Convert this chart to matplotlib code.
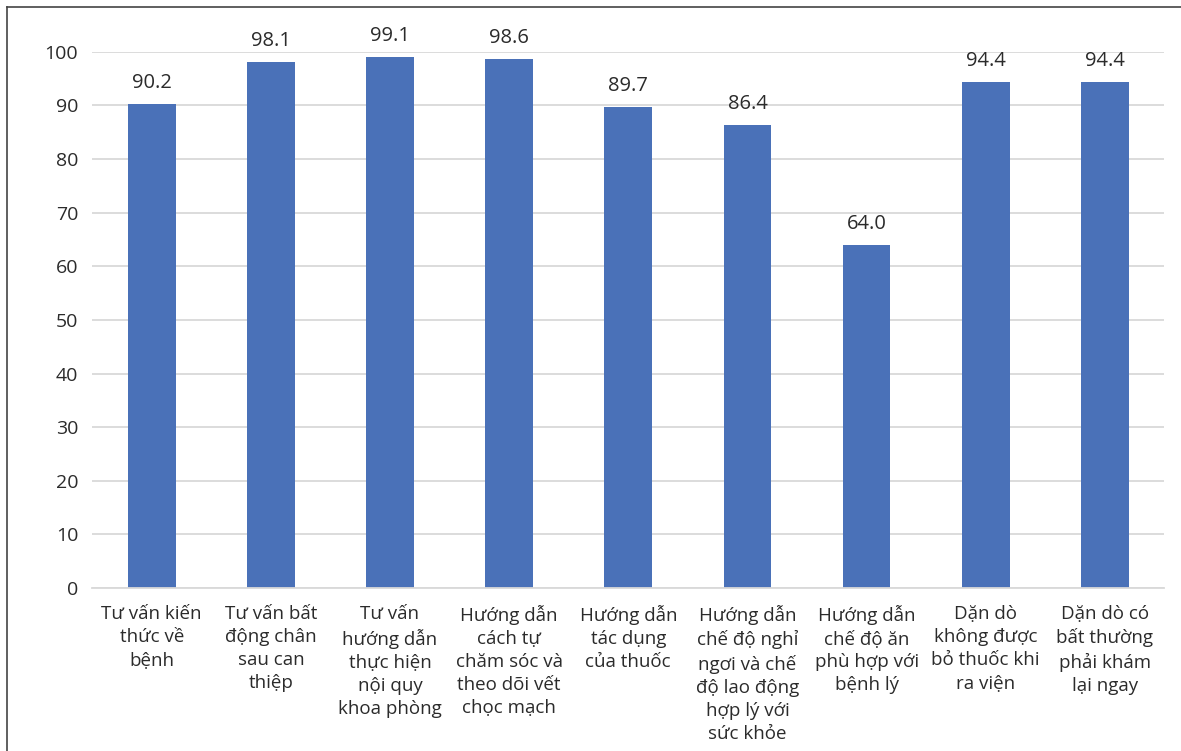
import matplotlib
matplotlib.use('Agg')
import matplotlib.pyplot as plt
from matplotlib.lines import Line2D

plt.rcParams['font.family'] = ['Open Sans', 'DejaVu Sans']

categories = [
    "Tư vấn kiến\nthức về\nbệnh",
    "Tư vấn bất\nđộng chân\nsau can\nthiệp",
    "Tư vấn\nhướng dẫn\nthực hiện\nnội quy\nkhoa phòng",
    "Hướng dẫn\ncách tự\nchăm sóc và\ntheo dõi vết\nchọc mạch",
    "Hướng dẫn\ntác dụng\ncủa thuốc",
    "Hướng dẫn\nchế độ nghỉ\nngơi và chế\nđộ lao động\nhợp lý với\nsức khỏe",
    "Hướng dẫn\nchế độ ăn\nphù hợp với\nbệnh lý",
    "Dặn dò\nkhông được\nbỏ thuốc khi\nra viện",
    "Dặn dò có\nbất thường\nphải khám\nlại ngay",
]
values = [90.2, 98.1, 99.1, 98.6, 89.7, 86.4, 64.0, 94.4, 94.4]
yticks = list(range(0, 101, 10))

text_color = '#2b2b2b'
fig = plt.figure(figsize=(11.81, 7.51), dpi=100)
ax = fig.add_axes([0.078, 0.217, 0.908, 0.714])

x = range(len(values))
bars = ax.bar(x, values, width=0.4, color='#4A71B8', zorder=2)
for b, v in zip(bars, values):
    ax.annotate(f"{v:.1f}", (b.get_x() + b.get_width() / 2, v),
                xytext=(0, 8), textcoords='offset points',
                ha='center', va='bottom', fontsize=14.5, color=text_color,
                annotation_clip=False)

ax.set_xlim(-0.5, len(values) - 0.5)
ax.set_ylim(0, 100)
ax.set_yticks(yticks)
ax.set_xticks(list(x))
ax.set_xticklabels(categories, fontsize=13.5, color=text_color,
                   linespacing=1.37, va='top')
ax.tick_params(axis='y', labelsize=14, labelcolor=text_color, length=0, pad=10)
ax.tick_params(axis='x', length=0, pad=12)
ax.yaxis.grid(True, color='#d9d9d9', linewidth=1.3, zorder=0)
ax.set_axisbelow(True)
for s in ['top', 'right', 'left']:
    ax.spines[s].set_visible(False)
ax.spines['bottom'].set_color('#d9d9d9')
ax.spines['bottom'].set_linewidth(1.3)

# frame lines at top and left edge of the picture
fx = 7 / 1181
fy = 1 - 7 / 751
fig.add_artist(Line2D([fx, 1], [fy, fy], transform=fig.transFigure, color='#444444', linewidth=1.2))
fig.add_artist(Line2D([fx, fx], [0, fy], transform=fig.transFigure, color='#444444', linewidth=1.2))

fig.savefig('out.png', dpi=100)
